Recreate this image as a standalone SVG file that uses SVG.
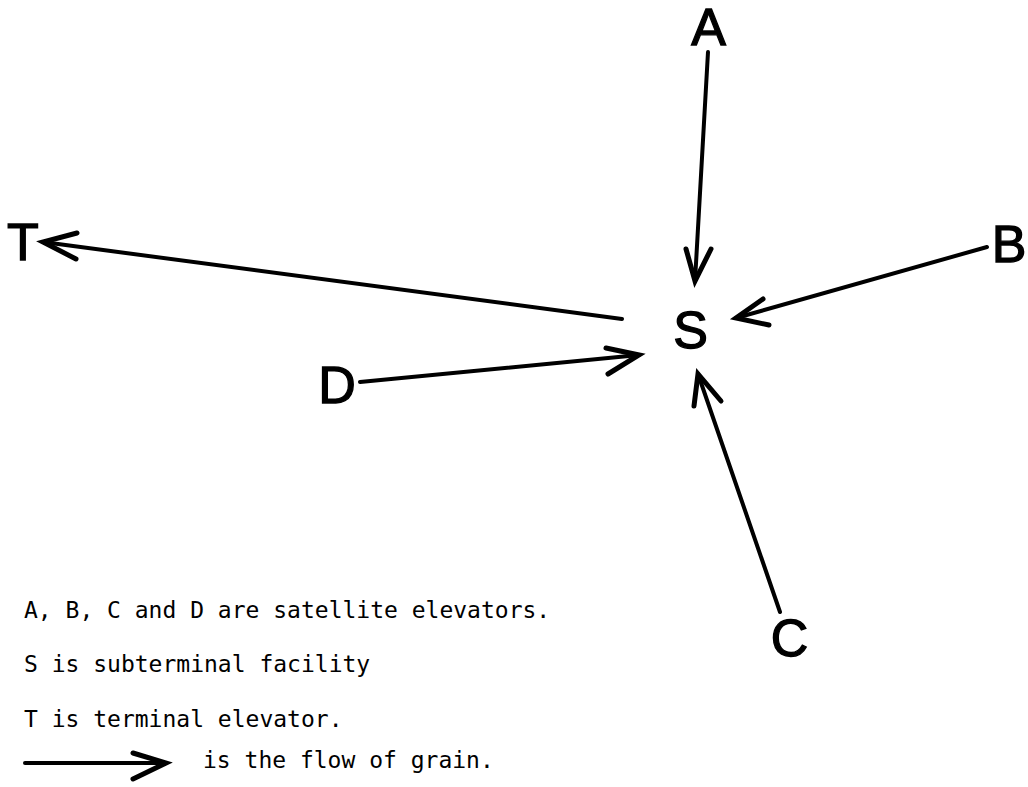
<svg xmlns="http://www.w3.org/2000/svg" width="1028" height="787" viewBox="0 0 1028 787">
<style>
.lbl{font-family:"Liberation Sans",Arial,sans-serif;font-size:52px;fill:#000;stroke:#000;stroke-width:1.3px;text-anchor:middle}
.leg{font-family:"DejaVu Sans Mono","Liberation Mono",monospace;font-size:23px;fill:#000}
.ln{fill:none;stroke:#000;stroke-width:4;stroke-linecap:round}
.hd{fill:none;stroke:#000;stroke-width:5;stroke-linecap:round;stroke-linejoin:miter;stroke-miterlimit:10}
</style>
<rect width="1028" height="787" fill="#fff"/>
<g id="node-A"><text class="lbl" x="708.5" y="45">A</text></g>
<g id="node-B"><text class="lbl" x="1009" y="262">B</text></g>
<g id="node-S"><text class="lbl" x="690.5" y="348">S</text></g>
<g id="node-T"><text class="lbl" x="23" y="260">T</text></g>
<g id="node-D"><text class="lbl" x="337" y="403">D</text></g>
<g id="node-C"><text class="lbl" x="789.5" y="656">C</text></g>
<g id="connectors">
<line class="ln" x1="708" y1="52" x2="695" y2="281"/>
<polyline class="hd" points="686,249 695,281 711,249"/>
<line class="ln" x1="987" y1="247" x2="736" y2="318"/>
<polyline class="hd" points="763,299 736,318 769,325"/>
<line class="ln" x1="622" y1="319" x2="43" y2="242"/>
<polyline class="hd" points="77,233 43,242 76,259"/>
<line class="ln" x1="360" y1="382" x2="639" y2="355"/>
<polyline class="hd" points="606,348 639,355 608,374"/>
<line class="ln" x1="780" y1="612" x2="698" y2="374"/>
<polyline class="hd" points="694,406 698,374 721,401"/>
</g>
<g id="legend">
<text class="leg" x="24" y="618">A, B, C and D are satellite elevators.</text>
<text class="leg" x="24" y="672">S is subterminal facility</text>
<text class="leg" x="24" y="727">T is terminal elevator.</text>
<line class="ln" x1="25" y1="763" x2="162" y2="763"/>
<polyline class="hd" points="133,753 166,763 133,779"/>
<text class="leg" x="203" y="768">is the flow of grain.</text>
</g>
</svg>
